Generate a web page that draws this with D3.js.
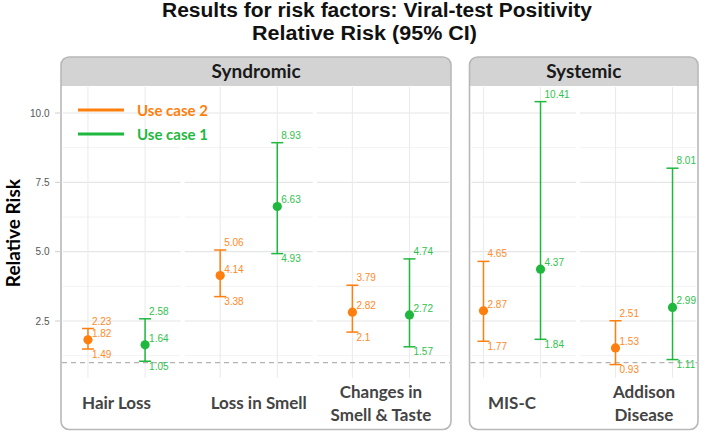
<!DOCTYPE html>
<html>
<head>
<meta charset="utf-8">
<script src="https://cdn.jsdelivr.net/npm/d3@7"></script>
<style>
  html, body { margin: 0; padding: 0; background: #fff; }
  svg { display: block; }
</style>
</head>
<body>
<svg id="chart" width="709" height="434"></svg>
<script>
// ---------- data ----------
const panels = ["Syndromic", "Systemic"];
const categories = ["Hair Loss", "Loss in Smell", "Changes in\nSmell & Taste", "MIS-C", "Addison\nDisease"];
const categoryPanel = ["Syndromic", "Syndromic", "Syndromic", "Systemic", "Systemic"];
const seriesNames = ["Use case 2", "Use case 1"];
// Use case 2
const uc2Est  = [1.82, 4.14, 2.82, 2.87, 1.53];
const uc2Low  = [1.49, 3.38, 2.1, 1.77, 0.93];
const uc2High = [2.23, 5.06, 3.79, 4.65, 2.51];
// Use case 1
const uc1Est  = [1.64, 6.63, 2.72, 4.37, 2.99];
const uc1Low  = [1.05, 4.93, 1.57, 1.84, 1.11];
const uc1High = [2.58, 8.93, 4.74, 10.41, 8.01];
const yTicks = [2.5, 5.0, 7.5, 10.0];
const yMinor = [1.25, 3.75, 6.25, 8.75];
const refLine = 1;

// ---------- layout ----------
const colors = { "Use case 2": "#ff7f0e", "Use case 1": "#1fb83f" };
const labelColors = { "Use case 2": "#ff8a2a", "Use case 1": "#2fc24c" };
const labelShift = { "Loss in Smell": 10 };
const svg = d3.select("#chart");
const plotTop = 88.5, plotBottom = 377.7;
const boxTop = 57, boxBottom = 429.5, stripBottom = 86;

const allVals = uc2Low.concat(uc1Low, uc2High, uc1High);
const lo = d3.min(allVals), hi = d3.max(allVals);
const pad = (hi - lo) * 0.05;
const y = d3.scaleLinear().domain([lo - pad, hi + pad]).range([plotBottom, plotTop]);

const panelDefs = {
  "Syndromic": { x0: 61, x1: 451, domain: [-0.42, 2.53] },
  "Systemic":  { x0: 469.5, x1: 698, domain: [-0.322, 1.409] }
};
Object.values(panelDefs).forEach(p => {
  p.x = d3.scaleLinear().domain(p.domain).range([p.x0, p.x1]);
});
const dodge = 0.216;

// records
const records = [];
categories.forEach((c, i) => {
  const pName = categoryPanel[i];
  const idx = categories.filter((cc, j) => categoryPanel[j] === pName).indexOf(c);
  records.push({ cat: c, panel: pName, idx, series: "Use case 2", est: uc2Est[i], low: uc2Low[i], high: uc2High[i], off: -dodge });
  records.push({ cat: c, panel: pName, idx, series: "Use case 1", est: uc1Est[i], low: uc1Low[i], high: uc1High[i], off: dodge });
});

// ---------- title ----------
const title = svg.append("g").attr("font-family", "Liberation Sans, Arial, sans-serif").attr("font-weight", "bold").attr("fill", "#111");
title.append("text").attr("x", 162).attr("y", 17).attr("font-size", 20)
  .attr("textLength", 430).attr("lengthAdjust", "spacingAndGlyphs")
  .text("Results for risk factors: Viral-test Positivity");
title.append("text").attr("x", 252).attr("y", 39.5).attr("font-size", 20)
  .attr("textLength", 225).attr("lengthAdjust", "spacingAndGlyphs")
  .text("Relative Risk (95% CI)");

// ---------- panels ----------
panels.forEach(pName => {
  const p = panelDefs[pName];
  const g = svg.append("g");
  const nCats = categories.filter((c, j) => categoryPanel[j] === pName).length;

  g.append("rect").attr("x", p.x0).attr("y", boxTop).attr("width", p.x1 - p.x0).attr("height", boxBottom - boxTop)
    .attr("rx", 8).attr("ry", 8).attr("fill", "#fff");

  // horizontal gridlines, segmented per category
  for (let k = 0; k < nCats; k++) {
    const sx0 = k === 0 ? p.x0 + 2 : p.x(k - 0.5) + 2;
    const sx1 = k === nCats - 1 ? p.x1 - 2 : p.x(k + 0.5) - 2;
    yMinor.forEach(v => {
      g.append("line").attr("x1", sx0).attr("x2", sx1).attr("y1", y(v)).attr("y2", y(v))
        .attr("stroke", "#f2f2f2").attr("stroke-width", 1);
    });
    yTicks.forEach(v => {
      g.append("line").attr("x1", sx0).attr("x2", sx1).attr("y1", y(v)).attr("y2", y(v))
        .attr("stroke", "#e6e6e6").attr("stroke-width", 1.2);
    });
  }
  // vertical gridlines at each dodged position
  records.filter(r => r.panel === pName).forEach(r => {
    const xx = p.x(r.idx + r.off);
    g.append("line").attr("x1", xx).attr("x2", xx).attr("y1", stripBottom + 1).attr("y2", plotBottom)
      .attr("stroke", "#ebebeb").attr("stroke-width", 1.1);
  });

  // reference line
  g.append("line").attr("x1", p.x0 + 1).attr("x2", p.x1 - 1).attr("y1", y(refLine)).attr("y2", y(refLine))
    .attr("stroke", "#b3b3b3").attr("stroke-width", 1.2).attr("stroke-dasharray", "5,4");

  // strip
  const r = 8, w = p.x1 - p.x0, h = stripBottom - boxTop;
  g.append("path")
    .attr("d", `M${p.x0},${boxTop + h} V${boxTop + r} Q${p.x0},${boxTop} ${p.x0 + r},${boxTop} H${p.x1 - r} Q${p.x1},${boxTop} ${p.x1},${boxTop + r} V${boxTop + h} Z`)
    .attr("fill", "#d3d3d3");
  g.append("text").attr("x", (p.x0 + p.x1) / 2).attr("y", 77.5).attr("text-anchor", "middle")
    .attr("font-family", "Lato, sans-serif").attr("font-weight", "bold").attr("font-size", 19).attr("fill", "#1a1a1a")
    .text(pName);

  // box border
  g.append("rect").attr("x", p.x0).attr("y", boxTop).attr("width", w).attr("height", boxBottom - boxTop)
    .attr("rx", 8).attr("ry", 8).attr("fill", "none").attr("stroke", "#b8b8b8").attr("stroke-width", 1.6);

  // category labels
  categories.forEach((c, j) => {
    if (categoryPanel[j] !== pName) return;
    const idx = categories.filter((cc, jj) => categoryPanel[jj] === pName).indexOf(c);
    const lines = c.split("\n");
    const t = g.append("text").attr("text-anchor", "middle")
      .attr("font-family", "Lato, sans-serif").attr("font-weight", "bold").attr("font-size", 17).attr("fill", "#444");
    const cx = p.x(idx) + (labelShift[c] || 0);
    if (lines.length === 1) {
      t.append("tspan").attr("x", cx).attr("y", 409).text(lines[0]);
    } else {
      t.append("tspan").attr("x", cx).attr("y", 398).text(lines[0]);
      t.append("tspan").attr("x", cx).attr("y", 421).text(lines[1]);
    }
  });

  // error bars, points, labels
  const recs = records.filter(rr => rr.panel === pName);
  const eb = g.selectAll("g.eb").data(recs).enter().append("g");
  eb.each(function(d) {
    const gg = d3.select(this);
    const xx = p.x(d.idx + d.off);
    const col = colors[d.series];
    gg.append("line").attr("x1", xx).attr("x2", xx).attr("y1", y(d.low)).attr("y2", y(d.high))
      .attr("stroke", col).attr("stroke-width", 1.5);
    [d.low, d.high].forEach(v => {
      gg.append("line").attr("x1", xx - 6).attr("x2", xx + 6).attr("y1", y(v)).attr("y2", y(v))
        .attr("stroke", col).attr("stroke-width", 1.5);
    });
    gg.append("circle").attr("cx", xx).attr("cy", y(d.est)).attr("r", 4.6).attr("fill", col);
    const lab = (v, yy) => gg.append("text").attr("x", xx + 4).attr("y", yy)
      .attr("font-family", "Liberation Sans, Arial, sans-serif").attr("font-size", 10)
      .attr("fill", labelColors[d.series]).text(String(v));
    lab(d.high, y(d.high) - 4);
    lab(d.est, y(d.est) - 3);
    lab(d.low, y(d.low) + 8.5);
  });
});

// ---------- y axis ----------
const ya = svg.append("g");
yTicks.forEach(v => {
  ya.append("line").attr("x1", 55).attr("x2", 61).attr("y1", y(v)).attr("y2", y(v)).attr("stroke", "#cfcfcf").attr("stroke-width", 1);
  ya.append("text").attr("x", 49.5).attr("y", y(v) + 3.5).attr("text-anchor", "end")
    .attr("font-family", "Liberation Sans, Arial, sans-serif").attr("font-size", 10).attr("fill", "#555")
    .text(d3.format(".1f")(v));
});
svg.append("text").attr("transform", `translate(19.5,${(plotTop + plotBottom) / 2}) rotate(-90)`)
  .attr("text-anchor", "middle").attr("font-family", "Lato, sans-serif").attr("font-weight", "bold")
  .attr("font-size", 19).attr("fill", "#000").text("Relative Risk");

// ---------- legend ----------
const lg = svg.append("g");
seriesNames.forEach((s, i) => {
  const ly = 110 + i * 24;
  lg.append("line").attr("x1", 78).attr("x2", 124).attr("y1", ly).attr("y2", ly)
    .attr("stroke", colors[s]).attr("stroke-width", 3);
  lg.append("text").attr("x", 137).attr("y", ly + 5.5)
    .attr("font-family", "Lato, sans-serif").attr("font-weight", "bold").attr("font-size", 15)
    .attr("fill", colors[s]).text(s);
});
</script>
</body>
</html>
